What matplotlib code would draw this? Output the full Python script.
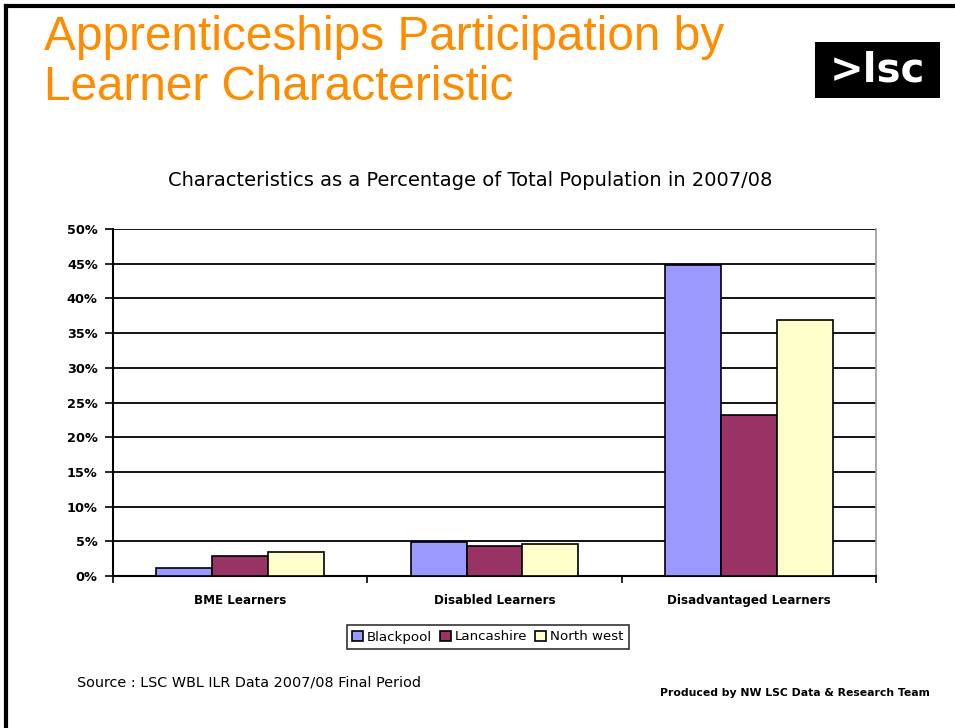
import matplotlib
matplotlib.use("Agg")
import matplotlib.pyplot as plt
import numpy as np
from matplotlib.patches import Rectangle
from matplotlib.ticker import MultipleLocator, FuncFormatter

categories = ["BME Learners", "Disabled Learners", "Disadvantaged Learners"]
series_names = ["Blackpool", "Lancashire", "North west"]
blackpool = [1.2, 4.9, 44.8]
lancashire = [2.9, 4.3, 23.2]
north_west = [3.5, 4.6, 36.9]
colors = ["#9999FF", "#993366", "#FFFFCC"]

plt.rcParams['font.family'] = ['DejaVu Sans']

W, H = 955, 728
fig = plt.figure(figsize=(W / 100, H / 100), dpi=100)

def fx(px):
    return px / W

def fy(py):
    return 1 - py / H

# page border (top and left)
fig.add_artist(plt.Line2D([fx(6), fx(6)], [fy(6), 0], color="black", lw=3, transform=fig.transFigure))
fig.add_artist(plt.Line2D([fx(6), 1], [fy(6), fy(6)], color="black", lw=3, transform=fig.transFigure))

# main title
title_font = ["Liberation Sans", "DejaVu Sans"]
fig.text(fx(44), fy(38), "Apprenticeships Participation by", color="#FF8C00", fontsize=34.4,
         ha="left", va="center", family=title_font)
fig.text(fx(44), fy(88), "Learner Characteristic", color="#FF8C00", fontsize=34.4,
         ha="left", va="center", family=title_font)

# logo
fig.add_artist(Rectangle((fx(815), fy(98)), fx(940) - fx(815), fy(42) - fy(98),
                         facecolor="black", edgecolor="none", transform=fig.transFigure))
fig.text(fx(877), fy(71), ">lsc", color="white", fontsize=29, fontweight="bold",
         ha="center", va="center")

# chart title
fig.text(fx(470), fy(181), "Characteristics as a Percentage of Total Population in 2007/08",
         fontsize=14, ha="center", va="center")

ax = fig.add_axes([fx(113), fy(576), fx(876) - fx(113), fy(229) - fy(576)])
x = np.arange(len(categories))
bw = 0.22
for i, (vals, name, c) in enumerate(zip([blackpool, lancashire, north_west], series_names, colors)):
    ax.bar(x + (i - 1) * bw, vals, width=bw, color=c, edgecolor="black", linewidth=1.2,
           label=name, zorder=3)

ax.set_xlim(-0.5, len(categories) - 0.5)
ax.set_ylim(0, 50)
ax.yaxis.set_major_locator(MultipleLocator(5))
ax.yaxis.set_major_formatter(FuncFormatter(lambda v, p: f"{int(round(v))}%"))
ax.yaxis.grid(True, color="black", linewidth=1.3, zorder=0)
ax.set_axisbelow(True)
for lbl in ax.get_yticklabels():
    lbl.set_fontweight("bold")
ax.tick_params(axis="y", labelsize=9.3, length=6, width=1.2, direction="out", pad=5)

ax.set_xticks(np.arange(len(categories) + 1) - 0.5)
ax.set_xticklabels([])
ax.set_xticks(x, minor=True)
ax.set_xticklabels(categories, minor=True, fontsize=8.6, fontweight="bold")
ax.tick_params(axis="x", which="major", length=5, width=1.2, direction="out")
ax.tick_params(axis="x", which="minor", length=0, pad=13)

ax.spines["left"].set_linewidth(1.5)
ax.spines["bottom"].set_linewidth(1.5)
ax.spines["top"].set_visible(False)
ax.spines["right"].set_color("#999999")
ax.spines["right"].set_linewidth(1.2)

leg = fig.legend(loc="center", bbox_to_anchor=(fx(488), fy(637)), ncol=3, fontsize=9.6,
                 frameon=True, fancybox=False, edgecolor="black", handlelength=0.8,
                 handleheight=0.8, handletextpad=0.3, columnspacing=0.6, borderpad=0.4)
leg.get_frame().set_linewidth(1.2)

fig.text(fx(77), fy(683), "Source : LSC WBL ILR Data 2007/08 Final Period", fontsize=10.4,
         ha="left", va="center")
fig.text(fx(930), fy(693), "Produced by NW LSC Data & Research Team", fontsize=7.8,
         ha="right", va="center", fontweight="bold")

fig.savefig("out.png", dpi=100)
